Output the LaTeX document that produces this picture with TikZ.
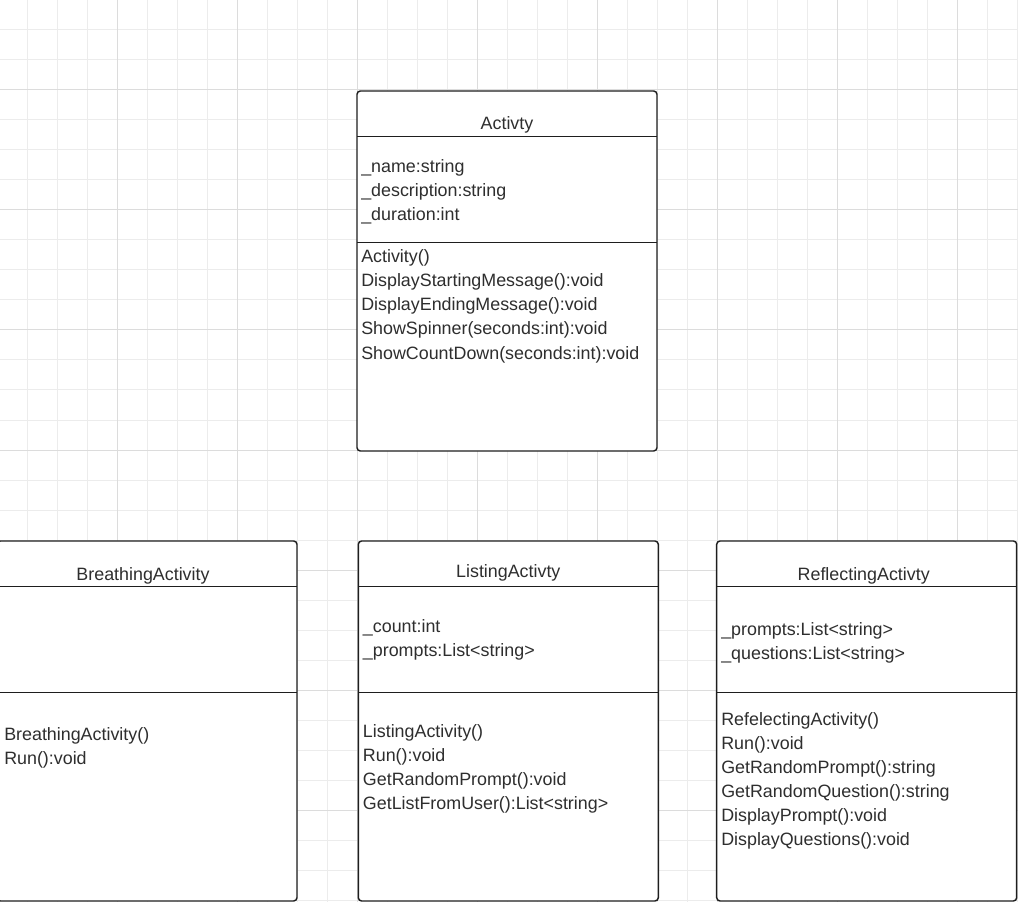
\documentclass[tikz,border=0pt]{standalone}
\usepackage{fontspec}
\setmainfont{Liberation Sans}
\usetikzlibrary{calc,fadings}
\definecolor{gridminor}{HTML}{ECECEC}
\definecolor{gridmajor}{HTML}{DCDCDC}
\definecolor{ink}{HTML}{1E1E1E}
\definecolor{txt}{HTML}{2E2E2E}
\tikzfading[name=vfade, top color=transparent!100, middle color=transparent!0, bottom color=transparent!100]
\begin{document}
\begin{tikzpicture}[x=0.75pt,y=-0.75pt,
  classbox/.style={draw=ink, line width=1.1pt, fill=white, rounded corners=2.5pt,
    inner sep=0pt, outer sep=0pt, anchor=north west,
    minimum width=225pt, minimum height=270pt},
  divider/.style={draw=ink, line width=1.1pt},
  member/.style={anchor=base west, inner sep=0pt, text=txt,
    font=\fontsize{13.4}{16}\selectfont},
  classname/.style={anchor=base, inner sep=0pt, text=txt,
    font=\fontsize{13.4}{16}\selectfont},
  minorline/.style={draw=gridminor, line width=0.75pt},
  majorline/.style={draw=gridmajor, line width=0.75pt}]

\useasboundingbox (0,0) rectangle (1018,902);
\clip (0,0) rectangle (1018,902);
\fill[white] (0,0) rectangle (1018,902);

% soft shadow along the left edge
\shade[left color=black!16, right color=white, path fading=vfade] (0,120) rectangle (28,455);

% canvas grid
\foreach \k in {0,...,33} \draw[minorline] ({27.3+30*\k},0) -- ({27.3+30*\k},902);
\foreach \k in {1,...,30} \draw[minorline] (0,{30*\k}) -- (1018,{30*\k});
\foreach \k in {0,...,7} \draw[majorline] ({117.3+120*\k},0) -- ({117.3+120*\k},902);
\foreach \k in {0,...,6} \draw[majorline] (0,{90+120*\k}) -- (1018,{90+120*\k});

% ---- Activty ----
\node[classbox] (act) at (357,91) {};
\draw[divider] ($(act.north west)+(0,45.7)$) -- ($(act.north east)+(0,45.7)$);
\draw[divider] ($(act.north west)+(0,151.3)$) -- ($(act.north east)+(0,151.3)$);
\node[classname] (act-title) at ($(act.north)+(0,38.5)$) {Activty};
\foreach \t [count=\i] in {\_name:string, \_description:string, \_duration:int}
  \node[member] (act-a\i) at ($(act.north west)+(4,58+24*\i)$) {\t};
\foreach \t [count=\i] in {Activity(), DisplayStartingMessage():void, DisplayEndingMessage():void,
    ShowSpinner(seconds:int):void, ShowCountDown(seconds:int):void}
  \node[member] (act-m\i) at ($(act.north west)+(4,148+24*\i)$) {\t};

% ---- BreathingActivity ----
\node[classbox] (br) at (-3,541) {};
\draw[divider] ($(br.north west)+(0,45.7)$) -- ($(br.north east)+(0,45.7)$);
\draw[divider] ($(br.north west)+(0,151.3)$) -- ($(br.north east)+(0,151.3)$);
\node[classname] (br-title) at ($(br.north)+(-4,39.5)$) {BreathingActivity};
\foreach \t [count=\i] in {BreathingActivity(), Run():void}
  \node[member] (br-m\i) at ($(br.north west)+(7,175.5+24*\i)$) {\t};

% ---- ListingActivty ----
\node[classbox] (ls) at (358.3,541) {};
\draw[divider] ($(ls.north west)+(0,45.7)$) -- ($(ls.north east)+(0,45.7)$);
\draw[divider] ($(ls.north west)+(0,151.3)$) -- ($(ls.north east)+(0,151.3)$);
\node[classname] (ls-title) at ($(ls.north)+(0,36.5)$) {ListingActivty};
\foreach \t [count=\i] in {\_count:int, \_prompts:List<string>}
  \node[member] (ls-a\i) at ($(ls.north west)+(4.4,67.5+24*\i)$) {\t};
\foreach \t [count=\i] in {ListingActivity(), Run():void, GetRandomPrompt():void,
    GetListFromUser():List<string>}
  \node[member] (ls-m\i) at ($(ls.north west)+(4.4,172.5+24*\i)$) {\t};

% ---- ReflectingActivty ----
\node[classbox] (rf) at (716.7,541) {};
\draw[divider] ($(rf.north west)+(0,45.7)$) -- ($(rf.north east)+(0,45.7)$);
\draw[divider] ($(rf.north west)+(0,151.3)$) -- ($(rf.north east)+(0,151.3)$);
\node[classname] (rf-title) at ($(rf.north)+(-3,39.5)$) {ReflectingActivty};
\foreach \t [count=\i] in {\_prompts:List<string>, \_questions:List<string>}
  \node[member] (rf-a\i) at ($(rf.north west)+(4.3,70.5+24*\i)$) {\t};
\foreach \t [count=\i] in {RefelectingActivity(), Run():void, GetRandomPrompt():string,
    GetRandomQuestion():string, DisplayPrompt():void, DisplayQuestions():void}
  \node[member] (rf-m\i) at ($(rf.north west)+(4.3,160.5+24*\i)$) {\t};

\end{tikzpicture}
\end{document}
